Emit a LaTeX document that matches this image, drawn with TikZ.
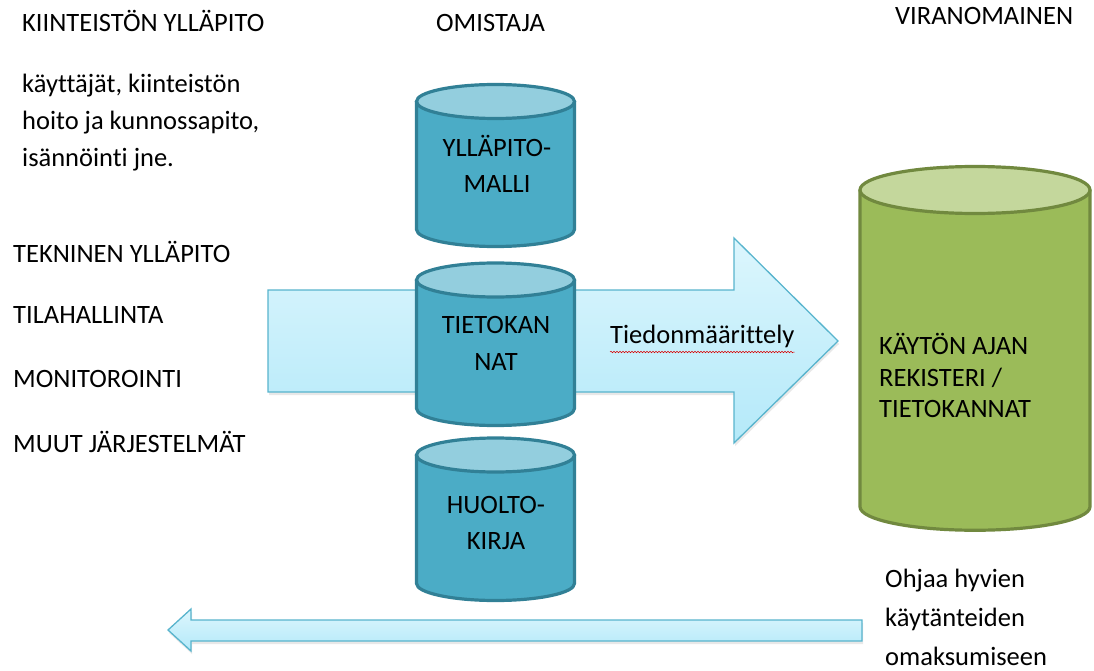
\documentclass[tikz,border=0pt]{standalone}
\usepackage{fontspec}
\setmainfont[Ligatures=CommonOff]{Carlito}
\usetikzlibrary{shadows,decorations.pathmorphing}
\definecolor{cylbody}{RGB}{75,172,198}
\definecolor{cyltop}{RGB}{147,206,222}
\definecolor{cylline}{RGB}{49,128,150}
\definecolor{grbody}{RGB}{155,187,89}
\definecolor{grtop}{RGB}{196,215,156}
\definecolor{grline}{RGB}{113,137,63}
\definecolor{arrtop}{RGB}{220,246,253}
\definecolor{arrbot}{RGB}{180,233,249}
\definecolor{arrline}{RGB}{88,180,205}
\newcommand{\dbcylinder}[8]{%
  \path[fill=#6, draw=#8, line width=3.2pt, line join=round]
    (#1-#4,#2) -- (#1-#4,#3)
    arc[start angle=180, end angle=360, x radius=#4pt, y radius=#5pt]
    -- (#1+#4,#2) -- cycle;
  \path[fill=#7, draw=#8, line width=3.2pt] (#1,#2) ellipse[x radius=#4pt, y radius=#5pt];
}
\tikzset{
  txt/.style={font=\fontsize{26.5}{32}\selectfont, inner sep=0pt, anchor=base west, text=black},
  ctxt/.style={font=\fontsize{26.5}{32}\selectfont, inner sep=0pt, anchor=base, text=black},
  bigarrow/.style={top color=arrtop, bottom color=arrbot, draw=arrline, line width=1.3pt, line join=miter,
    drop shadow={opacity=0.18, shadow xshift=1pt, shadow yshift=-3pt}},
}
\begin{document}
\begin{tikzpicture}[x=1pt, y=-1pt]
\useasboundingbox (0,0) rectangle (1094,671);

% big right arrow (behind the middle cylinder)
\path[bigarrow] (268,290) -- (734,290) -- (734,238) -- (838,341) -- (734,443) -- (734,392) -- (268,392) -- cycle;

% bottom left arrow
\path[bigarrow] (862,620) -- (191,620) -- (191,609) -- (168,630) -- (191,651) -- (191,641) -- (862,641) -- cycle;

% blue cylinders
\dbcylinder{495.5}{101.5}{229.5}{79}{17}{cylbody}{cyltop}{cylline}
\dbcylinder{495.5}{280}{408.5}{79}{17}{cylbody}{cyltop}{cylline}
\dbcylinder{495.5}{455}{583.5}{79}{17}{cylbody}{cyltop}{cylline}

% green cylinder
\dbcylinder{975}{190}{506.75}{115}{23.5}{grbody}{grtop}{grline}

% headings
\node[txt] (h1) at (22,32) {KIINTEISTÖN YLLÄPITO};
\node[txt] (h2) at (436,32) {OMISTAJA};
\node[txt] (h3) at (895,25) {VIRANOMAINEN};

% left description
\node[txt] (d1) at (22,93) {käyttäjät, kiinteistön};
\node[txt] (d2) at (22,130) {hoito ja kunnossapito,};
\node[txt] (d3) at (22,167) {isännöinti jne.};

\node[txt] (s1) at (13,262) {TEKNINEN YLLÄPITO};
\node[txt] (s2) at (13,323) {TILAHALLINTA};
\node[txt] (s3) at (13,387) {MONITOROINTI};
\node[txt] (s4) at (13,452) {MUUT JÄRJESTELMÄT};

% cylinder labels
\node[ctxt] (c1a) at (497,157) {YLLÄPITO-};
\node[ctxt] (c1b) at (497,193) {MALLI};
\node[ctxt] (c2a) at (496,333) {TIETOKAN};
\node[ctxt] (c2b) at (496,370) {NAT};
\node[ctxt] (c3a) at (496,513) {HUOLTO-};
\node[ctxt] (c3b) at (496,549) {KIRJA};

\node[txt] (g1) at (879,354) {KÄYTÖN AJAN};
\node[txt] (g2) at (879,386) {REKISTERI /};
\node[txt] (g3) at (879,417) {TIETOKANNAT};

% arrow label with spell-check underline
\node[txt] (td) at (610,343) {Tiedonmäärittely};
\draw[red!85!black, line width=0.5pt, decorate, decoration={snake, amplitude=0.8pt, segment length=3pt}]
  ([yshift=-9pt]td.base west) -- ([yshift=-9pt]td.base east);

% bottom text
\node[txt] (o1) at (885,587) {Ohjaa hyvien};
\node[txt] (o2) at (885,626) {käytänteiden};
\node[txt] (o3) at (885,665) {omaksumiseen};
\end{tikzpicture}
\end{document}
